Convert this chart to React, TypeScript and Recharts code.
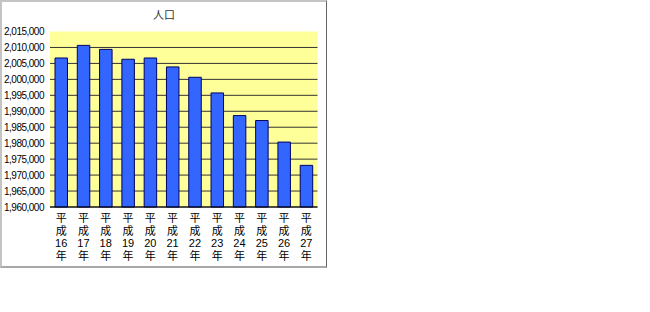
import { BarChart, Bar, XAxis, YAxis, CartesianGrid } from 'recharts';

const categories = [
  '平成16年', '平成17年', '平成18年', '平成19年', '平成20年', '平成21年',
  '平成22年', '平成23年', '平成24年', '平成25年', '平成26年', '平成27年',
];
const population = [
  2006700, 2010650, 2009400, 2006300, 2006700, 2003900,
  2000650, 1995750, 1988650, 1987100, 1980350, 1973050,
];
const yTicks = [
  1960000, 1965000, 1970000, 1975000, 1980000, 1985000,
  1990000, 1995000, 2000000, 2005000, 2010000, 2015000,
];

const data = categories.map((name, i) => ({ name, population: population[i] }));

const FONT = '"Liberation Sans", Arial, "Noto Sans CJK JP", sans-serif';

// splits 平成16年 into 平 / 成 / 16 / 年, stacked vertically
function StackedTick({ x, y, payload }: any) {
  const v: string = payload.value;
  const lines = [v.slice(0, 1), v.slice(1, 2), v.slice(2, v.length - 1), v.slice(-1)];
  return (
    <g>
      {lines.map((t, i) => (
        <text
          key={i}
          x={x}
          y={y + 15 + i * 12.5}
          textAnchor="middle"
          fontSize={11}
          fill="#000"
          fontFamily={FONT}
        >
          {t}
        </text>
      ))}
    </g>
  );
}

export default function App() {
  return (
    <div style={{ position: 'absolute', left: 0, top: 0, width: 650, height: 312, background: '#fff' }}>
      <div
        style={{
          position: 'absolute',
          left: 0,
          top: 0,
          width: 324,
          height: 264,
          borderTop: '2px solid #c4c4c4',
          borderLeft: '2px solid #c4c4c4',
          borderRight: '1px solid #666',
          borderBottom: '2px solid #a8a8a8',
        }}
      />
      <div
        style={{
          position: 'absolute',
          left: 0,
          width: 328,
          top: 6,
          textAlign: 'center',
          fontSize: 11,
          color: '#333',
          fontFamily: FONT,
        }}
      >
        人口
      </div>
      <div style={{ position: 'absolute', left: 0, top: 0 }}>
        <BarChart
          width={328}
          height={268}
          data={data}
          margin={{ top: 31.5, right: 10.5, left: 0, bottom: 0 }}
          barSize={12.5}
        >
          <CartesianGrid
            vertical={false}
            stroke="#333"
            strokeWidth={1}
            fill="#ffff99"
            fillOpacity={1}
            horizontalValues={yTicks.slice(0, -1)}
          />
          <XAxis
            dataKey="name"
            interval={0}
            height={61}
            tickLine={false}
            tickSize={0}
            tickMargin={0}
            axisLine={{ stroke: '#000' }}
            tick={<StackedTick />}
          />
          <YAxis
            width={50}
            domain={[1960000, 2015000]}
            ticks={yTicks}
            interval={0}
            axisLine={false}
            tickLine={false}
            tickSize={0}
            tickMargin={6}
            tickFormatter={(v: number) => v.toLocaleString('en-US')}
            tick={{ fontSize: 10, fill: '#000', fontFamily: FONT, letterSpacing: -0.5 }}
          />
          <Bar
            dataKey="population"
            fill="#3366ff"
            stroke="#000066"
            strokeWidth={1}
            isAnimationActive={false}
          />
        </BarChart>
      </div>
    </div>
  );
}
